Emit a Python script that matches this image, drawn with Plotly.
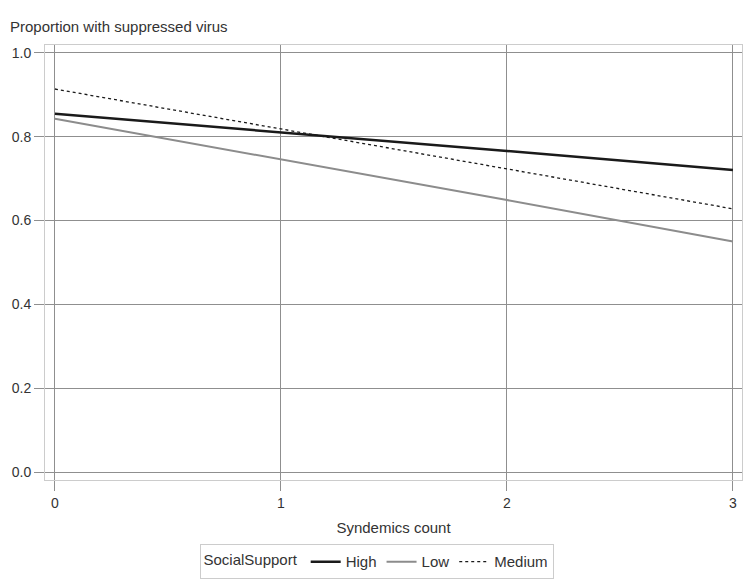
import plotly.graph_objects as go

syndemics = [0, 1, 2, 3]
high = [0.855, 0.811, 0.766, 0.721]
low = [0.843, 0.746, 0.649, 0.550]
medium = [0.914, 0.819, 0.723, 0.628]

x_ticks = [0, 1, 2, 3]
y_ticks = [0.0, 0.2, 0.4, 0.6, 0.8, 1.0]

font = dict(family="Liberation Sans, Arial, sans-serif", size=14, color="#333333")

fig = go.Figure()
fig.add_trace(go.Scatter(x=syndemics, y=high, mode="lines", name="High",
                         line=dict(color="#1a1a1a", width=2.5)))
fig.add_trace(go.Scatter(x=syndemics, y=low, mode="lines", name="Low",
                         line=dict(color="#8c8c8c", width=2)))
fig.add_trace(go.Scatter(x=syndemics, y=medium, mode="lines", name="Medium",
                         line=dict(color="#1a1a1a", width=1.3, dash="dot")))

fig.update_layout(
    width=746, height=577,
    margin=dict(l=37, r=12, t=37, b=105, autoexpand=False),
    paper_bgcolor="white", plot_bgcolor="white",
    font=font,
    showlegend=True,
    legend=dict(orientation="h", x=0.477, xanchor="center", y=-0.148, yanchor="top",
                bordercolor="#cccccc", borderwidth=1,
                title=dict(text="SocialSupport", font=dict(size=15, color="#333333")),
                font=dict(size=15, color="#333333"), itemwidth=30,
                traceorder="normal"),
    annotations=[dict(text="Proportion with suppressed virus", xref="paper", yref="paper",
                      x=-0.053, y=1.0, xanchor="left", yanchor="bottom", yshift=8,
                      showarrow=False, font=dict(size=15, color="#333333"))],
)
fig.update_xaxes(range=[-0.044, 3.040], tickvals=x_ticks, ticktext=[str(v) for v in x_ticks],
                 showgrid=True, gridcolor="#8f8f8f", gridwidth=1, zeroline=False,
                 showline=True, linecolor="#cccccc", mirror=True, automargin=False,
                 ticks="outside", ticklen=10, tickcolor="#8f8f8f",
                 title=dict(text="Syndemics count", font=dict(size=15, color="#333333"), standoff=12),
                 tickfont=dict(size=14))
fig.update_yaxes(range=[-0.019, 1.019], tickvals=y_ticks, ticktext=[f"{v:.1f}" for v in y_ticks],
                 showgrid=True, gridcolor="#8f8f8f", gridwidth=1, zeroline=False,
                 showline=True, linecolor="#cccccc", mirror=True, automargin=False,
                 ticks="outside", ticklen=10, tickcolor="#8f8f8f",
                 tickfont=dict(size=14))

fig.write_html("out.html")
